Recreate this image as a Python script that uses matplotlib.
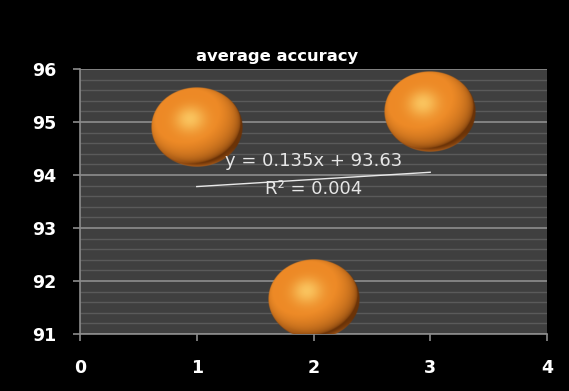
import numpy as np
import matplotlib
matplotlib.use("Agg")
import matplotlib.pyplot as plt
from matplotlib.ticker import MultipleLocator

# data
runs = [1, 2, 3]
accuracy = [94.91, 91.66, 95.18]
title = "average accuracy"
eq_text = "y = 0.135x + 93.63"
r2_text = "R² = 0.004"

plt.rcParams['font.family'] = ['DejaVu Sans']

W, H = 569, 391
fig = plt.figure(figsize=(W / 100, H / 100), dpi=100, facecolor="black")
left, right, top, bottom = 80, 547, 69, 334
ax = fig.add_axes([left / W, 1 - bottom / H, (right - left) / W, (bottom - top) / H])
ax.set_facecolor("#3f3f3f")

xmin, xmax, ymin, ymax = 0, 4, 91, 96
ax.set_xlim(xmin, xmax)
ax.set_ylim(ymin, ymax)
ax.xaxis.set_major_locator(MultipleLocator(1))
ax.yaxis.set_major_locator(MultipleLocator(1))
ax.yaxis.set_minor_locator(MultipleLocator(0.2))

ax.grid(axis="y", which="minor", color="#5a5a5a", lw=1.0)
ax.grid(axis="y", which="major", color="#8e8e8e", lw=1.2)
ax.set_axisbelow(True)
for s in ["top", "right"]:
    ax.spines[s].set_visible(False)
for s in ["left", "bottom"]:
    ax.spines[s].set_color("#8c8c8c")
    ax.spines[s].set_linewidth(1.2)
ax.tick_params(which="major", colors="#8c8c8c", length=5, width=1.2)
ax.tick_params(which="minor", length=0)
ax.tick_params(axis="x", pad=13)
ax.tick_params(axis="y", pad=12)
for lab in ax.get_xticklabels() + ax.get_yticklabels():
    lab.set_color("white")
    lab.set_fontweight("bold")
    lab.set_fontsize(12.5)

# shaded sphere image (style only)
n = 200
u, v = np.meshgrid(np.linspace(-1, 1, n), np.linspace(1, -1, n))
r2 = u ** 2 + v ** 2
inside = r2 <= 1
z = np.sqrt(np.clip(1 - r2, 0, 1))
L = np.array([-0.3, 0.4, 0.87]); L /= np.linalg.norm(L)
diff = np.clip(u * L[0] + v * L[1] + z * L[2], 0, 1)
Hv = L + np.array([0, 0, 1.0]); Hv /= np.linalg.norm(Hv)
spec = np.clip(u * Hv[0] + v * Hv[1] + z * Hv[2], 0, 1) ** 18
dark = np.array([0.42, 0.2, 0.03])
orange = np.array([0.93, 0.54, 0.15])
hi = np.array([1.0, 0.86, 0.46])
shade = diff[..., None] ** 0.5
rgb = dark + (orange - dark) * np.clip(shade * 1.2, 0, 1)
rgb = rgb + (hi - rgb) * (spec[..., None] * 0.7)
# faint reflected rim at the bottom
rim = np.clip((-v - 0.5) / 0.5, 0, 1) * np.clip((r2 - 0.8) / 0.2, 0, 1)
rgb = rgb + (np.array([0.9, 0.5, 0.15]) - rgb) * rim[..., None] * 0.6
edge = np.clip((1 - np.sqrt(r2)) * n / 2, 0, 1)
rgba = np.dstack([np.clip(rgb, 0, 1), edge * inside])

px_x = (right - left) / (xmax - xmin)
px_y = (bottom - top) / (ymax - ymin)
bw, bh = 92 / px_x, 80 / px_y
for xv, yv in zip(runs, accuracy):
    ax.imshow(rgba, extent=[xv - bw / 2, xv + bw / 2, yv - bh / 2, yv + bh / 2],
              aspect="auto", interpolation="bilinear", zorder=3)
ax.set_xlim(xmin, xmax)
ax.set_ylim(ymin, ymax)

# trend line
coef = np.polyfit(runs, accuracy, 1)
xs = np.array([min(runs), max(runs)])
ax.plot(xs, np.polyval(coef, xs), color="#e8e8e8", lw=1.0, zorder=4)

ax.text(2.0, 94.26, eq_text, color="#e6e6e6", fontsize=13, ha="center", va="center", zorder=5)
ax.text(2.0, 93.74, r2_text, color="#e6e6e6", fontsize=13, ha="center", va="center", zorder=5)

fig.text(277 / W, 1 - 56 / H, title, color="white", fontsize=11.8, fontweight="bold",
         ha="center", va="center")

fig.savefig("out.png", dpi=100, facecolor="black")
